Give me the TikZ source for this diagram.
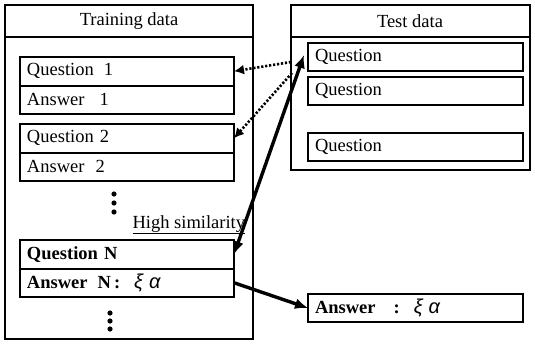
\documentclass[tikz,border=0pt]{standalone}
\usepackage{fontspec}
\setmainfont{Liberation Serif}
\newfontfamily\grksans{Liberation Sans}
\usetikzlibrary{arrows.meta,positioning}
\tikzset{
  txt/.style={font=\fontsize{18.5}{20}\selectfont},
  qabox/.style={txt, draw, line width=2pt, outer sep=0pt, anchor=north west,
    text width=200pt, inner xsep=7pt, inner ysep=0pt, minimum height=28.5pt, align=left},
  frame/.style={line width=2pt},
  dotlink/.style={line width=2.6pt, dash pattern=on 2.2pt off 1.8pt, -{Latex[length=10pt,width=10pt]}},
  boldlink/.style={line width=3.4pt, -{Latex[length=13pt,width=11pt]}},
  bothlink/.style={line width=3.4pt, {Latex[length=13pt,width=11pt]}-{Latex[length=13pt,width=11pt]}},
}
\newcommand\xialpha{{\grksans\mdseries\itshape\fontsize{20}{20}\selectfont ξ\hspace{6pt}α}}

\begin{document}
\begin{tikzpicture}[x=1pt,y=-1pt]
			\useasboundingbox (0,0) rectangle (535,343);
			
			% training side
			\draw[frame] (5,5) rectangle (253,339);
			\draw[frame] (5,37) -- (253,37);
			\node[txt] (traintitle) at (129,21) {Training data};
			
			\node[qabox] (q1) at (20,57) {Question\hspace{10pt}1};
			\node[qabox, below=0pt of q1] (a1) {Answer\hspace{15pt}1};
			\node[qabox] (q2) at (20,124) {Question 2};
			\node[qabox, below=0pt of q2] (a2) {Answer\hspace{11pt}2};
			
			\foreach \y in {194,203,212} \fill (114,\y) circle (2.6pt);
			
			\node[txt, anchor=base west] (sim) at (129,228) {\underline{High similarity}};
			
			\node[qabox, font=\fontsize{18.5}{20}\selectfont\bfseries] (qN) at (20,240) {Question N};
			\node[qabox, font=\fontsize{18.5}{20}\selectfont\bfseries, below=0pt of qN] (aN) {Answer\hspace{10pt}N\,:\hspace{14pt}\xialpha};
			
			\foreach \y in {313,321,329} \fill (110,\y) circle (2.6pt);
			
			% test side
			\draw[frame] (291,5) rectangle (530,170);
			\draw[frame] (291,37) -- (530,37);
			\node[txt] (testtitle) at (410,21) {Test data};
			
			\node[qabox, text width=201pt, minimum height=28pt] (tq1) at (308,43) {Question};
			\node[qabox, text width=201pt, minimum height=28pt] (tq2) at (308,77) {Question};
			\node[qabox, text width=201pt, minimum height=28pt] (tq3) at (308,133) {Question};
			
			\node[qabox, text width=201pt, minimum height=28pt, font=\fontsize{18.5}{20}\selectfont\bfseries] (ans) at (308,294) {Answer\hspace{18pt}:\hspace{14pt}\xialpha};
			
			% links
			\draw[dotlink] ([xshift=-17pt,yshift=-5pt]tq1.west) -- (q1.east);
			\draw[dotlink] ([xshift=-16pt,yshift=-16pt]tq1.west) -- (q2.east);
			\draw[bothlink] ([xshift=-4pt,yshift=2pt]tq1.west) -- (qN.east);
			\draw[boldlink] (aN.east) -- (ans.west);
			
\end{tikzpicture}
\end{document}
